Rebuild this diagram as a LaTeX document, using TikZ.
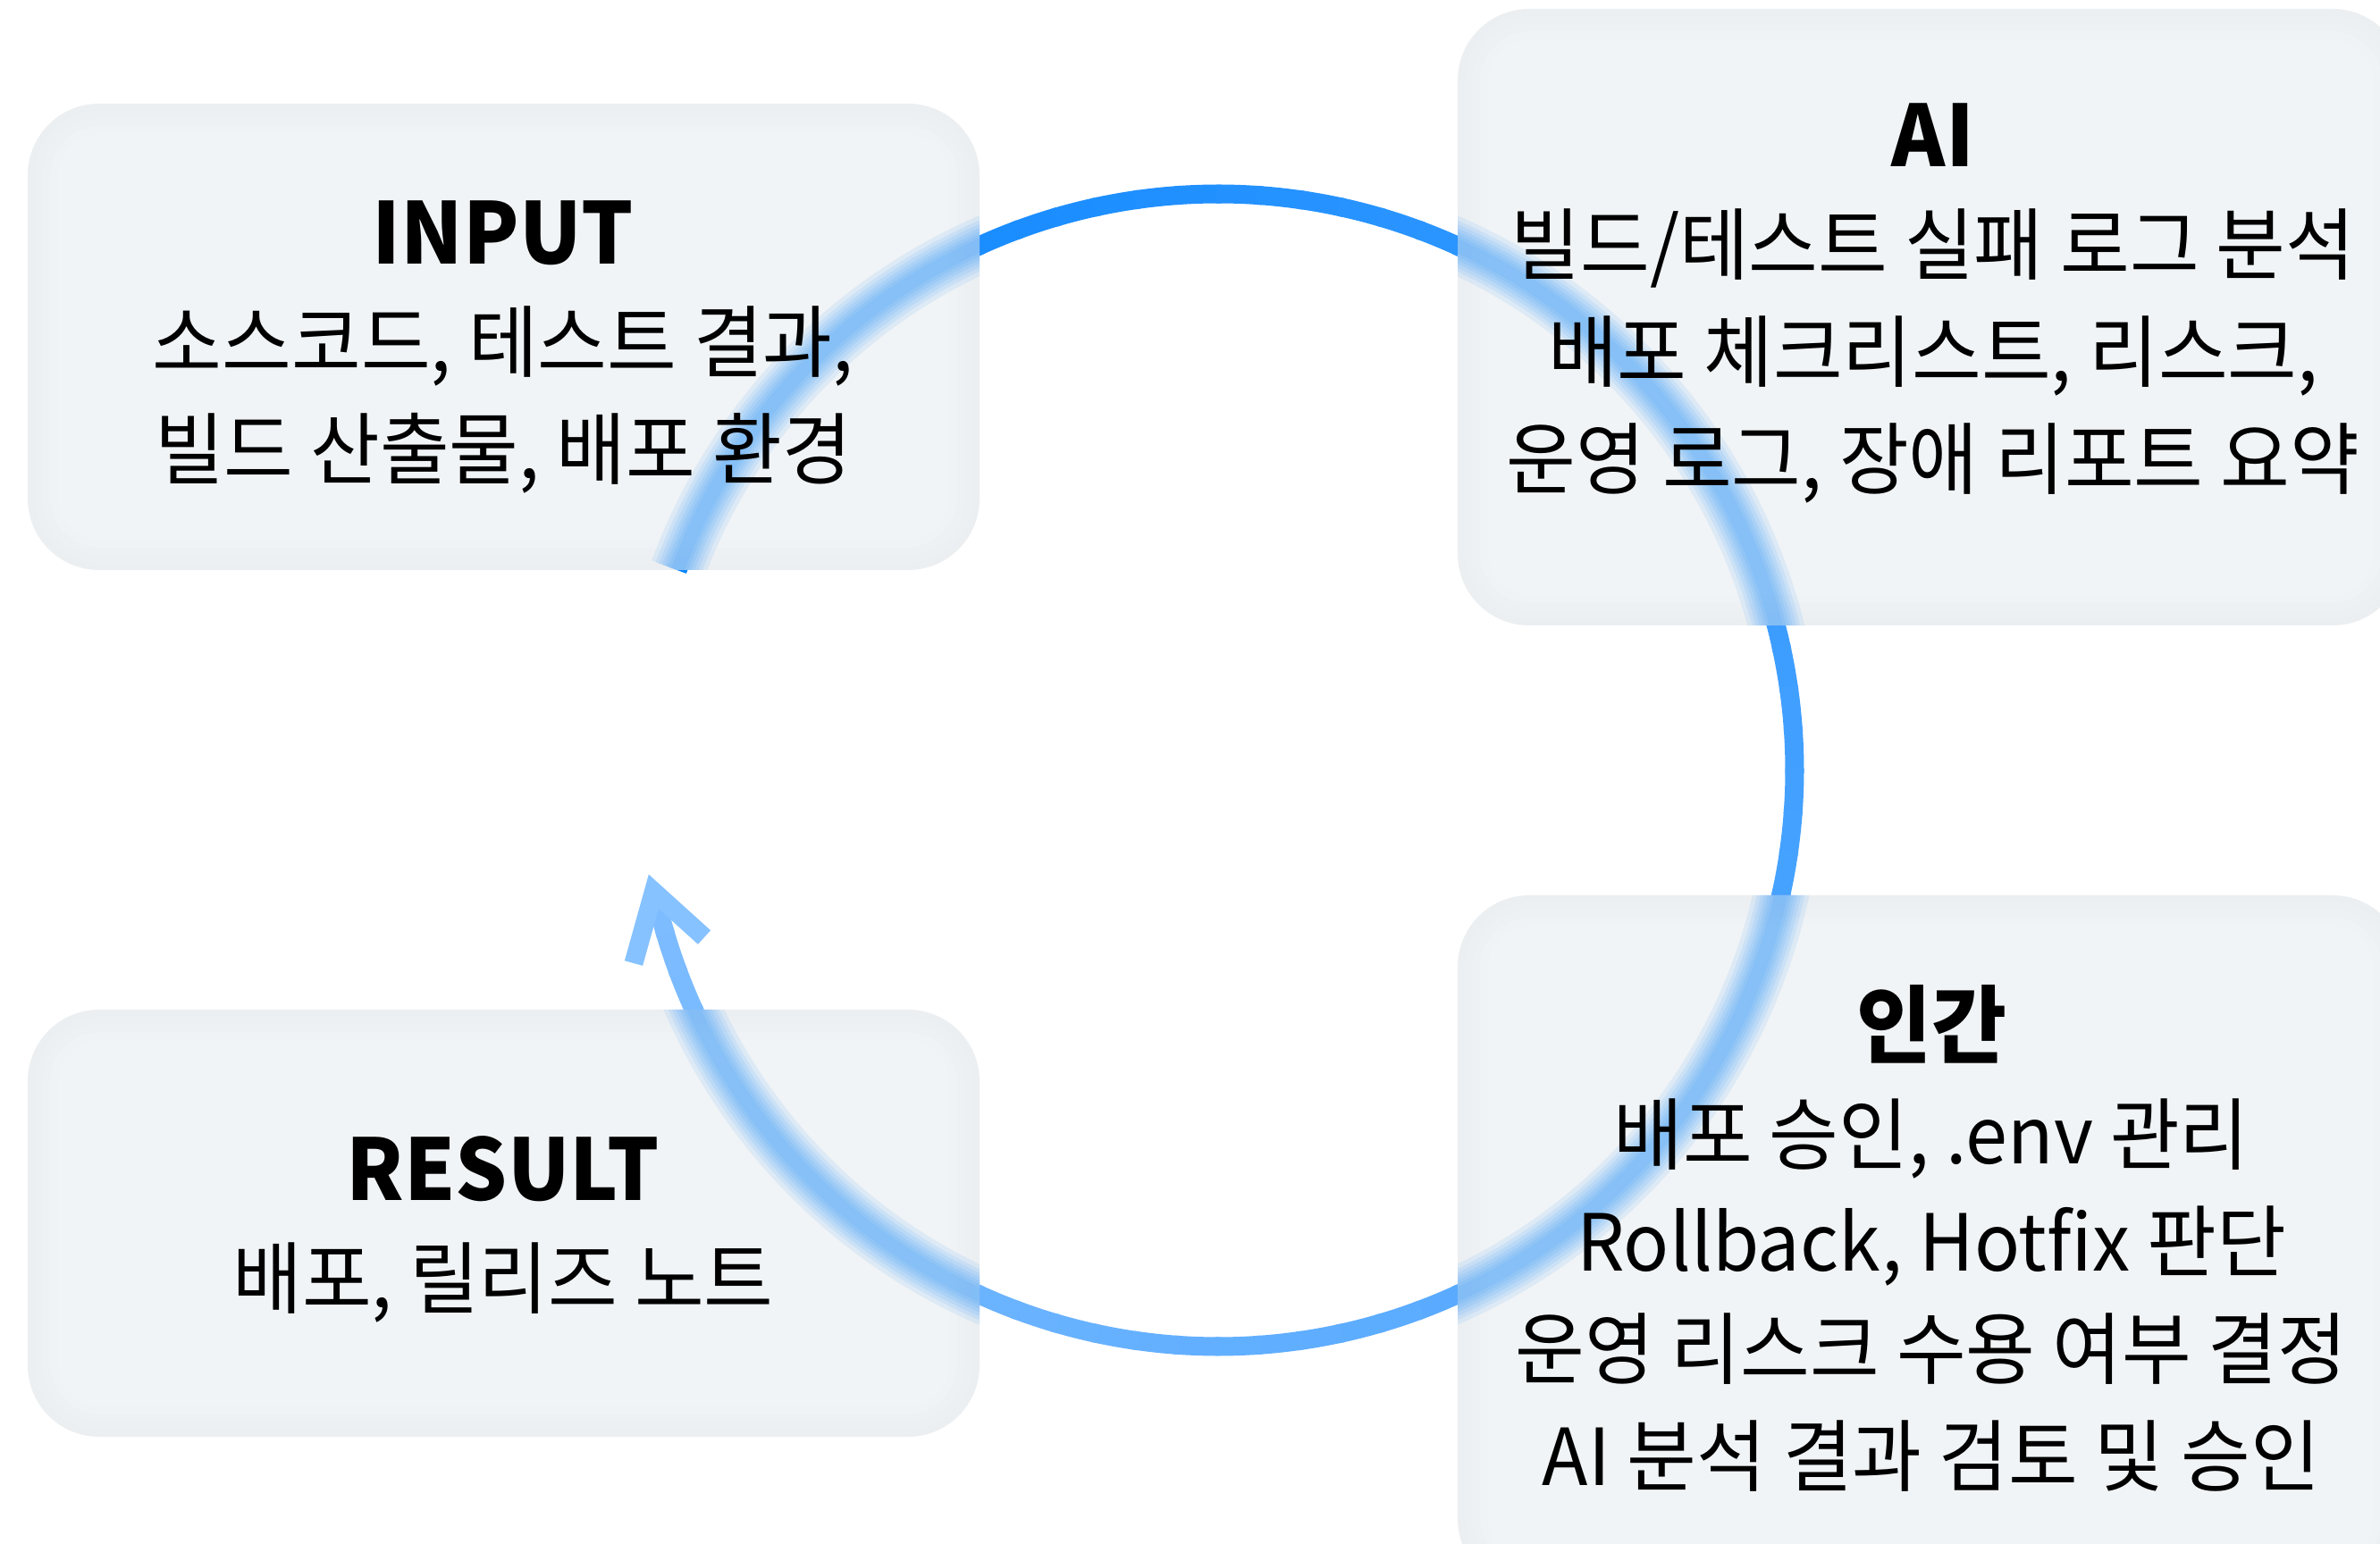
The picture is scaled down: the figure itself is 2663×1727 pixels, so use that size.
\documentclass[tikz,border=0pt]{standalone}
\usepackage{fontspec}
\setmainfont{Noto Sans CJK KR}[FakeStretch=0.96]
\usetikzlibrary{calc}
\definecolor{arcA}{RGB}{10,133,255}
\definecolor{arcB}{RGB}{125,188,255}
\definecolor{tipcol}{HTML}{86C2FF}
\definecolor{blurcol}{RGB}{30,144,255}
\definecolor{boxedge}{HTML}{ECEFF1}
\definecolor{boxmidA}{HTML}{EDF0F2}
\definecolor{boxmidB}{HTML}{EEF1F3}
\definecolor{boxmidC}{HTML}{F0F3F5}
\definecolor{boxin}{HTML}{F1F4F6}
\begin{document}
\begin{tikzpicture}[x=1pt,y=1pt,
  glass/.style={fill=boxedge, rounded corners=80pt, inner sep=0pt, outer sep=0pt},
  body/.style={align=center, font=\fontsize{88pt}{120pt}\selectfont, text=black, inner sep=0pt},
  flow/.style={line width=21pt, line cap=butt},
  chevron/.style={line width=21pt, line cap=butt, line join=miter, tipcol}]
\fill[white] (0,0) rectangle (2663,1727);
\useasboundingbox (0,0) rectangle (2663,1727);
\clip (0,0) rectangle (2663,1727);
\newcommand\ttl{\fontsize{95pt}{120pt}\selectfont\bfseries}

\coordinate (c) at (1363,865);
\coordinate (arcstart) at ($(c)+(159.7:645pt)$);
\coordinate (arcend) at ($(c)+(-167.5:645pt)$);
\coordinate (tipL) at (709,649);
\coordinate (tipV) at (731.4,729.2);
\coordinate (tipR) at (788,678);

% gradient cycle arc
\foreach \i in {0,...,79}{
  \pgfmathsetmacro\aa{159.7-\i*4.09}
  \pgfmathsetmacro\ab{max(\aa-4.59,-167.5)}
  \pgfmathsetmacro\pp{100*\i/79}
  \draw[flow, color=arcB!\pp!arcA] ($(c)+(\aa:645pt)$) arc[start angle=\aa, end angle=\ab, radius=645pt];
}
\draw[chevron] (tipL) -- (tipV) -- (tipR);

% glass boxes
\node[glass, minimum width=1065pt, minimum height=522pt] (inputbox) at (563.5,1350) {};
\node[glass, minimum width=1059pt, minimum height=690pt] (aibox) at (2160.5,1372) {};
\node[glass, minimum width=1059pt, minimum height=778pt] (humanbox) at (2160.5,336) {};
\node[glass, minimum width=1065pt, minimum height=478pt] (resultbox) at (563.5,358) {};
\foreach \b in {inputbox,aibox,humanbox,resultbox}{
  \fill[boxmidA, rounded corners=72pt] ($(\b.south west)+(8,8)$) rectangle ($(\b.north east)-(8,8)$);
  \fill[boxmidB, rounded corners=64pt] ($(\b.south west)+(16,16)$) rectangle ($(\b.north east)-(16,16)$);
  \fill[boxmidC, rounded corners=56pt] ($(\b.south west)+(25,25)$) rectangle ($(\b.north east)-(25,25)$);
  \fill[boxin, rounded corners=46pt] ($(\b.south west)+(34,34)$) rectangle ($(\b.north east)-(34,34)$);
}

% blurred arc seen through the glass
\begin{scope}
\clip[rounded corners=80pt] (inputbox.south west) rectangle (inputbox.north east)
  (aibox.south west) rectangle (aibox.north east)
  (humanbox.south west) rectangle (humanbox.north east)
  (resultbox.south west) rectangle (resultbox.north east);
\foreach \w in {62,52,44,36,29,22,15}{
  \draw[line width=\w pt, blurcol, opacity=0.095] (arcstart) arc[start angle=159.7, end angle=-167.5, radius=645pt];
}
\end{scope}

% texts
\node[body] (inputtext) at (563,1339) {{\ttl INPUT}\\소스코드, 테스트 결과,\\빌드 산출물, 배포 환경};
\node[body] (aitext) at (2163,1388) {{\ttl AI}\\빌드/테스트 실패 로그 분석\\배포 체크리스트, 리스크,\\운영 로그, 장애 리포트 요약};
\node[body] (humantext) at (2161,341) {{\ttl 인간}\\배포 승인, .env 관리\\Rollback, Hotfix 판단\\운영 리스크 수용 여부 결정\\AI 분석 결과 검토 및 승인};
\node[body] (resulttext) at (563,351) {{\ttl RESULT}\\배포, 릴리즈 노트};
\end{tikzpicture}
\end{document}
